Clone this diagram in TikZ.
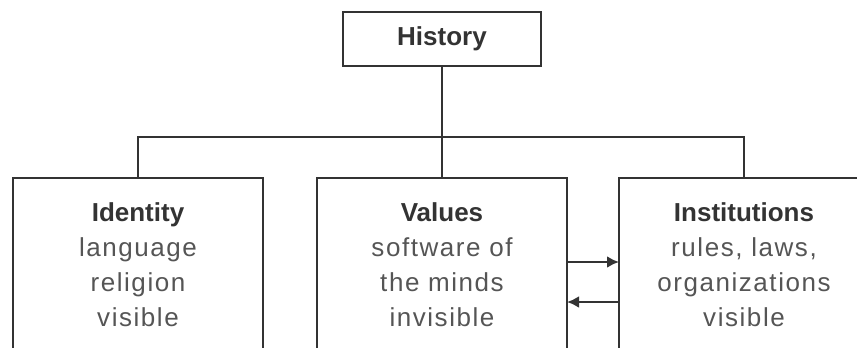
\documentclass[tikz,border=0pt]{standalone}
\usepackage{fontspec}
\setmainfont{Liberation Sans}[LetterSpace=6,BoldFeatures={LetterSpace=0}]
\usetikzlibrary{arrows.meta}
\definecolor{linegray}{HTML}{333333}
\definecolor{textgray}{HTML}{555555}

\tikzset{
    frame/.style={draw=linegray, line width=2.8pt, outer sep=0pt, inner sep=0pt},
    topic/.style={frame, anchor=north, minimum width=250pt, minimum height=174pt,
        text width=244pt, align=center, text=textgray,
        font=\fontsize{26}{35}\selectfont},
    head/.style={frame, minimum width=198pt, minimum height=54pt,
        text=black!80, font=\fontsize{26}{35}\selectfont\bfseries},
    link/.style={draw=linegray, line width=2.8pt},
    tip/.style={-{Latex[length=12pt,width=12pt]}},
}

\begin{document}
\begin{tikzpicture}[x=1pt, y=-1pt]
        \useasboundingbox (0,0) rectangle (857,348);
        \clip (0,0) rectangle (857,348);

        \node[head] (history) at (442,39) {History};

        \coordinate (bus) at (442,137);

        \node[topic] (identity) at (138,178) {\textcolor{black!80}{\textbf{Identity}}\\language\\religion\\visible};
        \node[topic] (values) at (442,178) {\textcolor{black!80}{\textbf{Values}}\\software of\\the minds\\invisible};
        \node[topic] (institutions) at (744,178) {\textcolor{black!80}{\textbf{Institutions}}\\rules, laws,\\organizations\\visible};

        \draw[link] (history) -- (bus);
        \draw[link] (identity.north) |- (bus) -| (institutions.north);
        \draw[link] (bus) -- (values.north);

        \draw[link, tip] ([yshift=3pt]values.east) -- ([yshift=3pt]institutions.west);
        \draw[link, tip] ([yshift=-37pt]institutions.west) -- ([yshift=-37pt]values.east);
    \end{tikzpicture}
\end{document}
